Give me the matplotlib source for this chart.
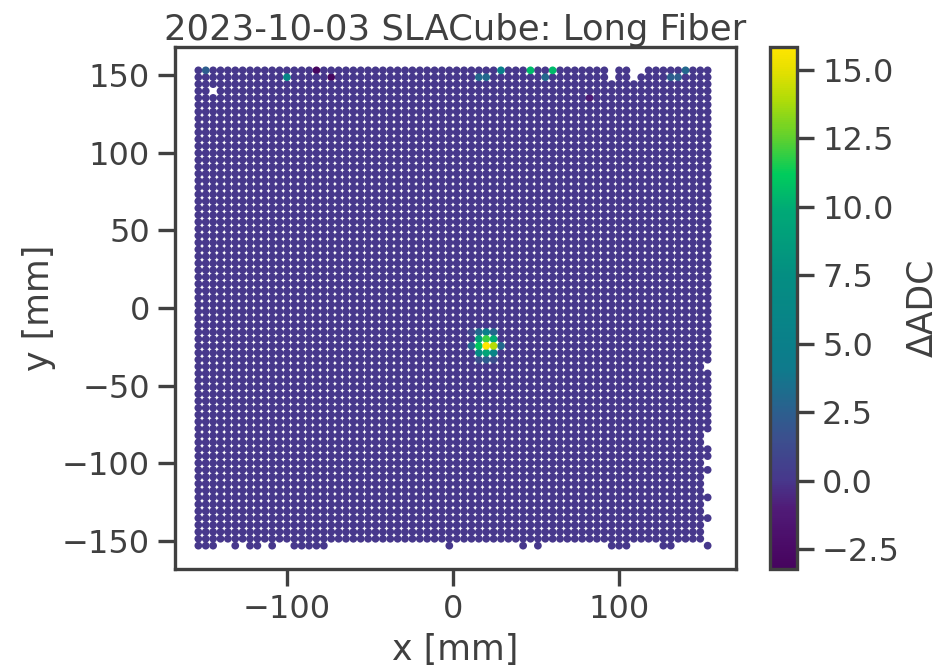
import numpy as np
import matplotlib
matplotlib.use('Agg')
import matplotlib.pyplot as plt
from matplotlib.colors import LinearSegmentedColormap

# pixel pitch of the anode tile, 70 x 70 pixels
pitch = 4.434
n_pix = 70

# pixels with a signal different from the flat background (column, row, dADC)
hot_col = [1, 12, 16, 18, 38, 39, 41, 45, 47, 48, 53, 64, 65, 66,
           37, 38, 39, 40,
           38, 39, 40,
           37, 38, 39, 40, 41,
           38, 39, 40,
           38, 39, 40]
hot_row = [69, 68, 69, 68, 68, 68, 69, 69, 68, 69, 65, 68, 68, 69,
           31, 31, 31, 31,
           30, 30, 30,
           29, 29, 29, 29, 29,
           28, 28, 28,
           27, 27, 27]
hot_adc = [2.5, 6.0, -3.0, -3.0, 3.0, 3.0, 5.0, 10.5, 3.0, 10.5, -1.0, 2.5, 2.5, 3.0,
           1.0, 3.0, 5.0, 3.0,
           9.0, 12.0, 10.0,
           3.0, 11.0, 15.8, 14.0, 3.0,
           7.0, 9.5, 6.0,
           1.5, 2.5, 1.5]

# dead pixels
dead_col = [2, 56, 56, 59, 59, 60]
dead_row = [66, 69, 68, 69, 68, 69]
# the bottom row and the right column are mostly dead, these are the ones that still fire
bottom_alive = [0, 1, 2, 5, 7, 8, 10, 13, 14, 15, 16, 17, 34, 44, 46, 56, 57, 58, 63, 64, 69]
right_dead = [1, 2, 3, 5, 6, 8, 9, 10, 12, 15, 16, 26]

# colorbar colours
cbar_pos = [0.0, 0.038, 0.117, 0.169, 0.248, 0.30, 0.38, 0.43, 0.563, 0.69, 0.757, 0.825, 0.90, 0.96, 1.0]
cbar_col = ['#46045e', '#4a0a66', '#501c78', '#47388c', '#3c4f8e', '#2c5f8e', '#0f7a8c', '#0a7f8a',
            '#048e82', '#00aa76', '#00cc5c', '#5cd030', '#b0dc08', '#e8e000', '#ffe500']

col, row = np.meshgrid(np.arange(n_pix), np.arange(n_pix))
adc = np.zeros((n_pix, n_pix))
adc[hot_row, hot_col] = hot_adc
alive = np.ones((n_pix, n_pix), dtype=bool)
alive[dead_row, dead_col] = False
alive[0, :] = False
alive[0, bottom_alive] = True
alive[right_dead, n_pix - 1] = False

x = (col - (n_pix - 1) / 2) * pitch
y = (row - (n_pix - 1) / 2) * pitch

cmap = LinearSegmentedColormap.from_list('ref', list(zip(cbar_pos, cbar_col)))

ink = '#404040'
plt.rcParams.update({'font.family': 'DejaVu Sans', 'text.color': ink,
                     'axes.labelcolor': ink, 'xtick.color': ink, 'ytick.color': ink,
                     'axes.edgecolor': ink})

fig = plt.figure(figsize=(9.38, 6.71), dpi=100)
ax = fig.add_axes([175 / 938, 1 - 569 / 671, (736 - 175) / 938, (569 - 47) / 671])
cax = fig.add_axes([770 / 938, 1 - 569 / 671, (797 - 770) / 938, (569 - 47) / 671])

order = np.argsort(adc[alive])
sc = ax.scatter(x[alive][order], y[alive][order], c=adc[alive][order], s=31, linewidths=0,
                cmap=cmap, vmin=-3.23, vmax=15.84)

ax.set_xlim(-167, 170)
ax.set_ylim(-168, 168)
ax.set_xticks([-100, 0, 100])
ax.set_yticks([-150, -100, -50, 0, 50, 100, 150])
ax.tick_params(length=12, width=2.4, labelsize=23, pad=6)
for s in ax.spines.values():
    s.set_linewidth(2.4)
ax.set_xlabel('x [mm]', fontsize=25, labelpad=6)
ax.set_ylabel('y [mm]', fontsize=25, labelpad=4)
ax.set_title('2023-10-03 SLACube: Long Fiber', fontsize=25.5, pad=4)

cb = fig.colorbar(sc, cax=cax)
cb.set_ticks([-2.5, 0, 2.5, 5, 7.5, 10, 12.5, 15])
cb.ax.tick_params(length=12, width=2.4, labelsize=23, pad=6)
cb.outline.set_linewidth(2.4)
cb.set_label('ΔADC', fontsize=25, labelpad=4)

fig.savefig('out.png', dpi=100)
